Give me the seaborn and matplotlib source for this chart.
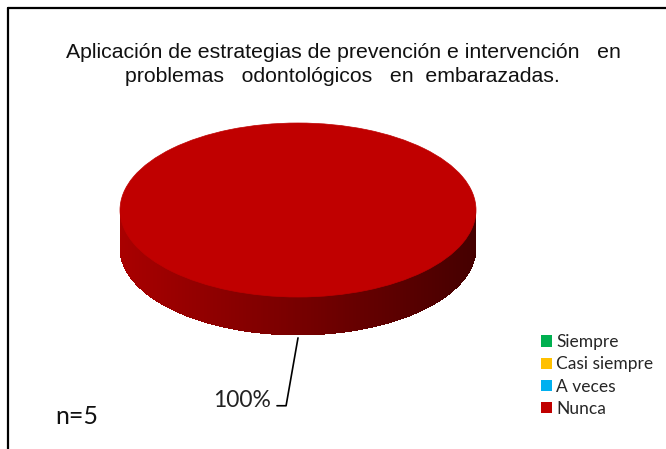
import matplotlib
matplotlib.use("Agg")
import matplotlib.pyplot as plt
import matplotlib.colors as mcolors
import numpy as np
import seaborn as sns
from matplotlib.lines import Line2D
from matplotlib.patches import Patch, Polygon

# ---------------------------------------------------------------------------
# Data
# ---------------------------------------------------------------------------
categories = ["Siempre", "Casi siempre", "A veces", "Nunca"]
counts = [0, 0, 0, 5]
colors = ["#00B050", "#FFC000", "#00B0F0", "#C00000"]
title_lines = ["Aplicación de estrategias de prevención e intervención   en",
               "problemas   odontológicos   en  embarazadas."]
n_label = "n=5"

sns.set_theme(style="white")
plt.rcParams["font.family"] = ["Liberation Sans", "DejaVu Sans"]
label_font = ["Lato", "DejaVu Sans"]

W, H = 666, 449
fig = plt.figure(figsize=(W / 100, H / 100), dpi=100)
fig.patch.set_facecolor("white")

# pie axes: unit circle squashed into the top ellipse of the 3D pie
cx, cy, rx, ry = 298, 210, 178, 87
ax = fig.add_axes([(cx - rx) / W, (H - cy - ry) / H, 2 * rx / W, 2 * ry / H])

total = sum(counts)
shown = [(c, col) for c, col in zip(counts, colors) if c > 0]
vals = [c for c, _ in shown]
cols = [col for _, col in shown]

wedges, _ = ax.pie(vals, colors=cols, startangle=90, counterclock=False,
                   radius=1.0, wedgeprops=dict(linewidth=0.5, edgecolor=cols[-1]))
for w in wedges:
    w.set_zorder(3)
ax.set_aspect("auto")
ax.set_xlim(-1, 1)
ax.set_ylim(-1, 1)
ax.axis("off")

# side wall of the 3D pie (front half), shaded left to right
depth = 38 / ry
base = np.array(mcolors.to_rgb(cols[-1]))
theta = np.linspace(np.pi, 2 * np.pi, 400)
for t0, t1 in zip(theta[:-1], theta[1:]):
    x0, x1 = np.cos(t0), np.cos(t1)
    y0, y1 = np.sin(t0), np.sin(t1)
    f = 0.88 - 0.52 * ((x0 + x1) / 2 + 1) / 2
    poly = Polygon([(x0, y0), (x1, y1), (x1, y1 - depth), (x0, y0 - depth)],
                   closed=True, facecolor=base * f, edgecolor="none",
                   linewidth=0, antialiased=False, clip_on=False, zorder=2)
    ax.add_patch(poly)

# data label with leader line
pct = f"{round(100 * vals[-1] / total)}%"
ax.plot([0.0, -0.067, -0.118], [-1.47, -2.25, -2.25], color="black",
        linewidth=1.2, clip_on=False, zorder=4)
ax.text(-0.15, -2.19, pct, ha="right", va="center", fontsize=16.5,
        family=label_font, color="#222222", clip_on=False)

# title and sample size
fig.text(343 / W, 1 - 57.5 / H, title_lines[0], ha="center", va="baseline",
         fontsize=15.3, color="#111111")
fig.text(342 / W, 1 - 81.5 / H, title_lines[1], ha="center", va="baseline",
         fontsize=15.3, color="#111111")
fig.text(55 / W, 1 - 417 / H, n_label, ha="left", va="center", fontsize=18,
         family=label_font, color="#111111")

# legend
handles = [Patch(facecolor=c, edgecolor="none") for c in colors]
fig.legend(handles, categories, loc="upper left",
           bbox_to_anchor=(529 / W, 1 - 322 / H), frameon=False,
           handlelength=0.62, handleheight=0.62, handletextpad=0.25,
           labelspacing=0.36, borderpad=0.2,
           prop={"family": label_font, "size": 12.5})

# chart frame (left and top edges)
fig.add_artist(Line2D([8 / W, 8 / W], [0, 1 - 8 / H], color="black",
                      linewidth=1.6, transform=fig.transFigure))
fig.add_artist(Line2D([8 / W, 1], [1 - 8 / H, 1 - 8 / H], color="black",
                      linewidth=1.6, transform=fig.transFigure))

fig.savefig("out.png", dpi=100)
